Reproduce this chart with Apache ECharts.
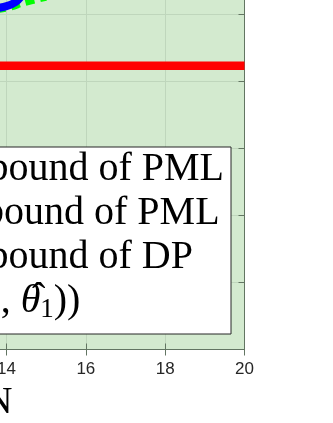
<!DOCTYPE html>
<html>
<head>
<meta charset="utf-8">
<script src="https://cdn.jsdelivr.net/npm/echarts@6/dist/echarts.min.js"></script>
<style>
html,body{margin:0;padding:0;background:#fff;}
#c{width:333px;height:423px;}
</style>
</head>
<body>
<div id="c"></div>
<script>
// ---- data ----
const xTicks = [2, 4, 6, 8, 10, 12, 14, 16, 18, 20];
const nFirst = [2, 4, 6, 8, 10, 12, 14, 16, 18, 20];
const firstVals = [4.23, 4.23, 4.23, 4.23, 4.23, 4.23, 4.23, 4.23, 4.23, 4.23];
const nCurves = [13, 14, 14.5, 15];
const secondVals = [5.045, 5.12, 5.358, 5.8];
const thirdVals = [5.0, 5.09, 5.18, 5.25];
const nFourth = [];
const fourthVals = [];
const seriesNames = ['Lower bound of PML', 'Upper bound of PML', 'Lower bound of DP', 'E(D²(θ1, θ̂1))'];

function pairs(xs, ys) { return xs.map((x, i) => [x, ys[i]]); }

const chart = echarts.init(document.getElementById('c'), null, {renderer: 'canvas'});
const axisCol = '#627562';
const gridCol = '#bfd6bc';
const serif = 'Liberation Serif';
const option = {
  animation: false,
  backgroundColor: '#ffffff',
  grid: {left: -469.5, right: 88.5, top: -53, bottom: 73.5, show: true, backgroundColor: '#d3eacf', borderWidth: 0,
    containLabel: false, outerBoundsMode: 'none'},
  xAxis: [{
    type: 'value', min: 2, max: 20, interval: 2, position: 'bottom',
    axisLine: {show: true, lineStyle: {color: axisCol, width: 1}},
    axisTick: {show: true, inside: true, length: 6, lineStyle: {color: axisCol}},
    axisLabel: {color: '#262626', fontSize: 17, fontFamily: 'Liberation Sans, Arial', margin: 11},
    splitLine: {show: true, lineStyle: {color: gridCol, width: 1}}
  }, {
    type: 'value', min: 2, max: 20, interval: 2, position: 'top',
    axisLine: {show: true, lineStyle: {color: axisCol}},
    axisTick: {show: true, inside: true, length: 6, lineStyle: {color: axisCol}},
    axisLabel: {show: false}, splitLine: {show: false}
  }],
  yAxis: [{
    type: 'value', min: 0, max: 6, interval: 1, position: 'left',
    axisLine: {show: true, lineStyle: {color: axisCol}},
    axisTick: {show: true, inside: true, length: 6, lineStyle: {color: axisCol}},
    axisLabel: {show: true, color: '#262626', fontSize: 17},
    splitLine: {show: true, lineStyle: {color: gridCol, width: 1}}
  }, {
    type: 'value', min: 0, max: 6, interval: 1, position: 'right',
    axisLine: {show: true, lineStyle: {color: axisCol}},
    axisTick: {show: true, inside: true, length: 6, lineStyle: {color: axisCol}},
    axisLabel: {show: false}, splitLine: {show: false}
  }],
  legend: {
    orient: 'vertical', right: 102, top: 147,
    padding: [0, 7, 11, 5], itemGap: 0, itemWidth: 60, itemHeight: 14,
    backgroundColor: '#ffffff', borderColor: '#262626', borderWidth: 1, borderRadius: 0,
    textStyle: {fontSize: 40, fontFamily: serif, color: '#000', lineHeight: 44,
      rich: {
        r: {fontSize: 40, fontFamily: serif, color: '#000', lineHeight: 44},
        i: {fontSize: 40, fontFamily: serif, fontStyle: 'italic', color: '#000', lineHeight: 44},
        h: {fontSize: 40, fontFamily: serif, color: '#000', lineHeight: 30, verticalAlign: 'top', width: 0},
        s: {fontSize: 27, fontFamily: serif, color: '#000', lineHeight: 28, verticalAlign: 'bottom'},
        p: {fontSize: 27, fontFamily: serif, color: '#000', lineHeight: 30, verticalAlign: 'top'}
      }},
    formatter: function (name) {
      if (name === seriesNames[3]) {
        return '{r|E(}{i|D}{p|2}{r|(}{i|θ}{s|1}{r|, }{h|\u2009\u200A\u02C6}{i|θ}{s|1}{r|))}';
      }
      return name;
    },
    data: seriesNames
  },
  graphic: [{
    type: 'text', left: -15, top: 384,
    style: {text: 'N', fontSize: 38, fontFamily: serif, fill: '#000'}
  }],
  series: [{
    name: seriesNames[0], type: 'line', data: pairs(nFirst, firstVals), showSymbol: false, symbol: 'none',
    lineStyle: {color: '#ff0000', width: 8.5}, itemStyle: {color: '#ff0000'}, z: 3
  }, {
    name: seriesNames[2], type: 'line', data: pairs(nCurves, thirdVals), showSymbol: false, symbol: 'none', smooth: true,
    lineStyle: {color: '#00ff00', width: 7, type: [9, 6]}, itemStyle: {color: '#00ff00'}, z: 3
  }, {
    name: seriesNames[1], type: 'line', data: pairs(nCurves, secondVals), showSymbol: false, symbol: 'none', smooth: true,
    lineStyle: {color: '#0000ff', width: 8}, itemStyle: {color: '#0000ff'}, z: 4
  }, {
    name: seriesNames[3], type: 'line', data: pairs(nFourth, fourthVals), showSymbol: false, symbol: 'none',
    lineStyle: {color: '#000000', width: 2}, itemStyle: {color: '#000000'}, z: 5
  }]
};
chart.setOption(option);
</script>
</body>
</html>
